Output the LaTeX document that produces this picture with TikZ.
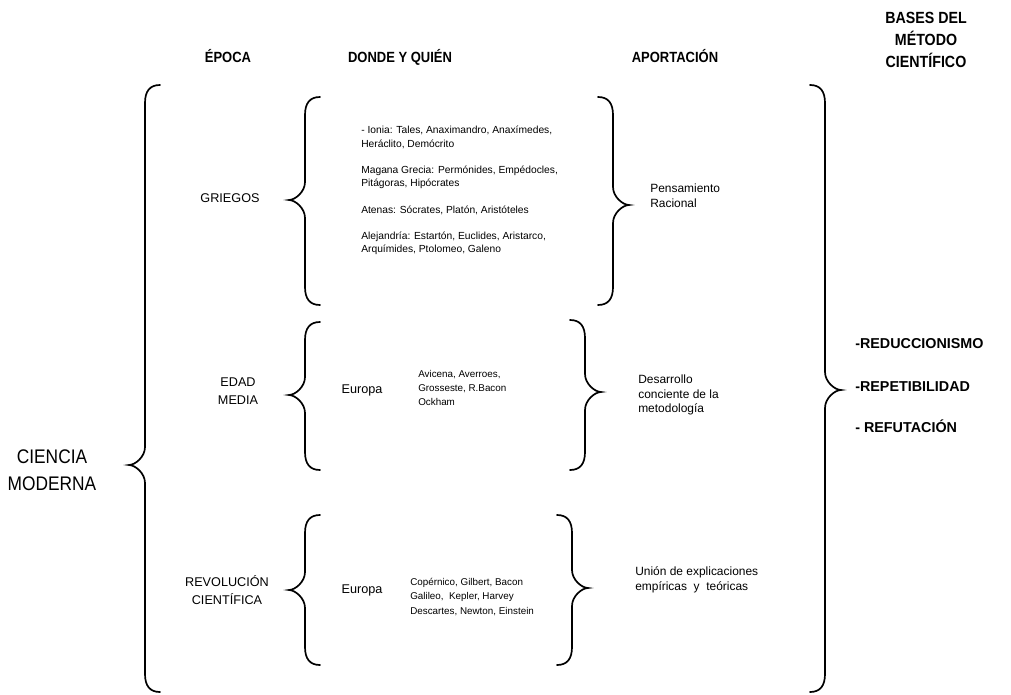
\documentclass[tikz,border=0pt]{standalone}
\usepackage{fontspec}
\setmainfont{Liberation Sans}
\newfontfamily\narrowfont[FakeStretch=0.88]{Liberation Sans}
\usetikzlibrary{positioning}

% brace: x of the stem, top, tip, bottom, side (1 opens, -1 closes)
\newcommand\llave[5]{%
  \draw[brace line]
    ({#1+(#5)*15},#2) .. controls ({#1+(#5)*5},#2) and (#1,#2+6) .. (#1,#2+18)
    -- (#1,#3-18) .. controls (#1,#3-8) and ({#1-(#5)*10},#3) .. ({#1-(#5)*16},#3)
    .. controls ({#1-(#5)*10},#3) and (#1,#3+8) .. (#1,#3+18)
    -- (#1,#4-18) .. controls (#1,#4-6) and ({#1+(#5)*5},#4) .. ({#1+(#5)*15},#4);}

\tikzset{
  brace line/.style={line width=1.2pt, line cap=round},
  head/.style={font=\narrowfont\bfseries\fontsize{10.5}{15}\selectfont, align=center, anchor=base},
  epoca/.style={font=\fontsize{9}{13}\selectfont, align=center},
  names/.style={font=\fontsize{7.3}{9.5}\selectfont, align=left, anchor=west, inner sep=0pt},
  aporte/.style={font=\fontsize{8.5}{10.5}\selectfont, align=left, anchor=west, inner sep=0pt},
  base/.style={font=\bfseries\fontsize{10.2}{12}\selectfont, anchor=west, inner sep=0pt}
}

\begin{document}
\begin{tikzpicture}[x=0.025cm, y=-0.025cm]
\useasboundingbox (0,0) rectangle (1011,695);

% Column heads
\node[head] (hepoca) at (228,63) {ÉPOCA};
\node[head] (hdonde) at (400,63) {DONDE Y QUIÉN};
\node[head] (haporte) at (675,63) {APORTACIÓN};
\node[head, anchor=center, font=\narrowfont\bfseries\fontsize{11.5}{15.5}\selectfont] (hbases) at (926,40) {BASES DEL\\MÉTODO\\CIENTÍFICO};

% Ciencia moderna
\node[font=\narrowfont\fontsize{14}{19}\selectfont, align=center] (ciencia) at (52,470) {CIENCIA\\MODERNA};
\llave{145}{85}{465}{692}{1}

% Griegos
\node[epoca] (griegos) at (230,198) {GRIEGOS};
\llave{305}{97}{200}{305}{1}
\node[names] (ionia) at (361,137.5) {- Ionia: Tales, Anaximandro, Anaxímedes,\\Heráclito, Demócrito};
\node[names] (magna) at (361,177.5) {Magana Grecia: Permónides, Empédocles,\\Pitágoras, Hipócrates};
\node[names] (atenas) at (361,210) {Atenas: Sócrates, Platón, Aristóteles};
\node[names] (alejandria) at (361,243.5) {Alejandría: Estartón, Euclides, Aristarco,\\Arquímides, Ptolomeo, Galeno};
\llave{613}{97}{205}{305}{-1}
\node[aporte] (racional) at (650,195.5) {Pensamiento\\Racional};

% Edad media
\node[epoca] (media) at (238,391) {EDAD\\MEDIA};
\llave{305}{322}{395}{470}{1}
\node[epoca] (europa1) at (362,390) {Europa};
\node[names, font=\fontsize{7}{10}\selectfont] (avicena) at (418,388) {Avicena, Averroes,\\Grosseste, R.Bacon\\Ockham};
\llave{585}{320}{392}{470}{-1}
\node[aporte] (metodo) at (638,395) {Desarrollo\\conciente de la\\metodología};

% Revolucion cientifica
\node[epoca] (revolucion) at (227,590) {REVOLUCIÓN\\CIENTÍFICA};
\llave{305}{515}{590}{665}{1}
\node[epoca] (europa2) at (362,590) {Europa};
\node[names, font=\fontsize{7}{10}\selectfont] (copernico) at (410,597) {Copérnico, Gilbert, Bacon\\Galileo,\ \ Kepler, Harvey\\Descartes, Newton, Einstein};
\llave{572}{515}{588}{665}{-1}
\node[aporte] (union) at (635,580) {Unión de explicaciones\\empíricas\ \ y\ \ teóricas};

% Bases del metodo cientifico
\llave{825}{85}{390}{692}{-1}
\node[base] (reduc) at (855,344) {-REDUCCIONISMO};
\node[base] (repet) at (855,387) {-REPETIBILIDAD};
\node[base] (refut) at (855,426) {- REFUTACIÓN};
\end{tikzpicture}
\end{document}
